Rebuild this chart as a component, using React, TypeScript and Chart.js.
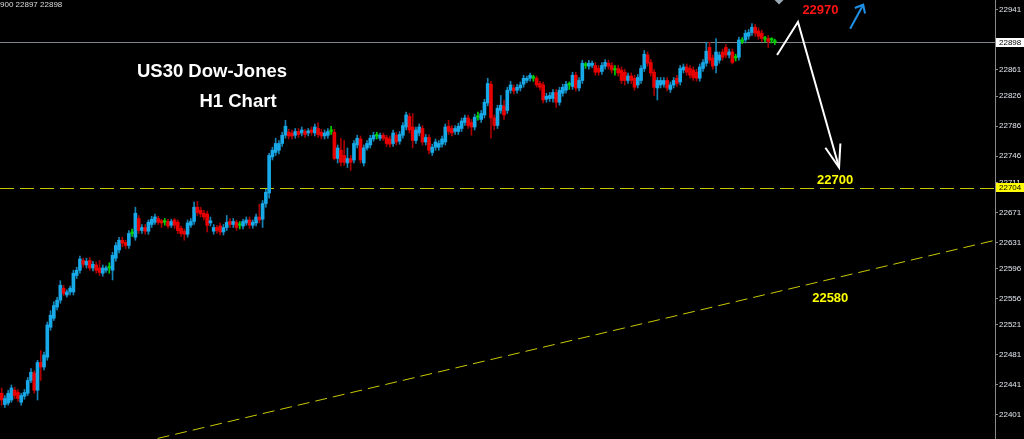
import React, { useEffect, useRef } from "react";
import { Chart, registerables } from "chart.js";

Chart.register(...registerables);

// ---- Candle data (US30 H1) ----
const opens = [
  22430, 22415, 22417, 22421, 22434, 22431, 22418, 22426, 22430, 22447,
  22457, 22434, 22471, 22465, 22478, 22518, 22530, 22545, 22554, 22570,
  22561, 22565, 22565, 22587, 22594, 22607, 22601, 22607, 22597, 22601,
  22597, 22590, 22594, 22597, 22594, 22610, 22621, 22634, 22631, 22627,
  22643, 22638, 22663, 22647, 22651, 22646, 22655, 22658, 22663, 22660,
  22658, 22659, 22654, 22661, 22658, 22650, 22646, 22642, 22654, 22659,
  22678, 22674, 22670, 22669, 22657, 22646, 22651, 22653, 22645, 22651,
  22659, 22655, 22658, 22654, 22653, 22657, 22661, 22654, 22657, 22665,
  22662, 22683, 22697, 22745, 22751, 22754, 22763, 22774, 22778, 22777,
  22774, 22779, 22777, 22779, 22777, 22781, 22777, 22783, 22778, 22773,
  22774, 22779, 22778, 22743, 22754, 22747, 22737, 22743, 22741, 22761,
  22769, 22737, 22757, 22761, 22769, 22773, 22770, 22774, 22771, 22769,
  22763, 22774, 22766, 22774, 22785, 22799, 22785, 22767, 22777, 22783,
  22765, 22771, 22751, 22758, 22758, 22762, 22765, 22786, 22783, 22779,
  22779, 22783, 22791, 22797, 22791, 22785, 22798, 22795, 22801, 22817,
  22842, 22797, 22787, 22807, 22813, 22807, 22834, 22837, 22834, 22837,
  22842, 22847, 22850, 22850, 22850, 22843, 22841, 22822, 22823, 22823,
  22831, 22818, 22830, 22834, 22841, 22839, 22854, 22837, 22847, 22867,
  22866, 22867, 22867, 22863, 22859, 22866, 22870, 22867, 22861, 22863,
  22861, 22858, 22847, 22853, 22850, 22841, 22847, 22863, 22881, 22871,
  22858, 22837, 22841, 22842, 22847, 22835, 22841, 22850, 22845, 22861,
  22865, 22863, 22861, 22858, 22850, 22863, 22870, 22891, 22877, 22867,
  22874, 22885, 22891, 22881, 22885, 22877, 22878, 22899, 22901, 22906,
  22911, 22918, 22913, 22910, 22902, 22903, 22901, 22899,
];
const highs = [
  22437, 22427, 22434, 22441, 22438, 22435, 22430, 22435, 22451, 22463,
  22460, 22474, 22487, 22485, 22525, 22540, 22552, 22558, 22580, 22574,
  22568, 22573, 22594, 22598, 22613, 22610, 22610, 22611, 22606, 22605,
  22607, 22601, 22600, 22604, 22618, 22631, 22638, 22638, 22634, 22647,
  22649, 22678, 22667, 22655, 22655, 22661, 22666, 22669, 22666, 22662,
  22663, 22662, 22662, 22663, 22661, 22653, 22649, 22661, 22663, 22685,
  22686, 22678, 22674, 22673, 22665, 22655, 22654, 22657, 22655, 22667,
  22663, 22663, 22661, 22659, 22662, 22665, 22665, 22661, 22669, 22682,
  22687, 22702, 22750, 22758, 22770, 22767, 22778, 22794, 22782, 22781,
  22783, 22783, 22785, 22782, 22783, 22785, 22789, 22791, 22782, 22781,
  22783, 22786, 22782, 22761, 22770, 22767, 22757, 22747, 22767, 22774,
  22773, 22761, 22767, 22774, 22778, 22778, 22777, 22777, 22774, 22773,
  22781, 22778, 22779, 22791, 22805, 22803, 22803, 22785, 22789, 22787,
  22775, 22775, 22762, 22769, 22767, 22773, 22789, 22794, 22787, 22787,
  22790, 22797, 22801, 22801, 22795, 22802, 22805, 22807, 22822, 22850,
  22846, 22801, 22814, 22827, 22821, 22838, 22846, 22841, 22842, 22845,
  22854, 22853, 22857, 22854, 22853, 22846, 22845, 22830, 22831, 22835,
  22835, 22838, 22842, 22846, 22845, 22858, 22858, 22851, 22874, 22871,
  22874, 22873, 22871, 22867, 22871, 22875, 22874, 22871, 22867, 22867,
  22865, 22862, 22857, 22857, 22854, 22855, 22867, 22887, 22885, 22875,
  22862, 22851, 22851, 22851, 22851, 22845, 22851, 22854, 22867, 22869,
  22869, 22867, 22865, 22862, 22869, 22875, 22898, 22898, 22881, 22903,
  22885, 22889, 22895, 22889, 22889, 22882, 22905, 22904, 22914, 22915,
  22923, 22922, 22917, 22914, 22906, 22907, 22904, 22902,
];
const lows = [
  22414, 22411, 22414, 22418, 22423, 22419, 22414, 22422, 22427, 22444,
  22430, 22421, 22447, 22461, 22474, 22514, 22527, 22541, 22550, 22560,
  22558, 22561, 22561, 22583, 22590, 22598, 22597, 22594, 22593, 22590,
  22587, 22586, 22591, 22590, 22581, 22606, 22617, 22625, 22623, 22623,
  22639, 22634, 22643, 22643, 22642, 22642, 22651, 22655, 22655, 22651,
  22654, 22650, 22651, 22650, 22643, 22639, 22634, 22638, 22651, 22655,
  22667, 22665, 22661, 22645, 22653, 22642, 22643, 22641, 22641, 22647,
  22651, 22651, 22647, 22649, 22649, 22654, 22650, 22650, 22653, 22657,
  22651, 22678, 22690, 22741, 22747, 22749, 22759, 22770, 22769, 22769,
  22770, 22771, 22773, 22771, 22773, 22774, 22773, 22771, 22769, 22769,
  22770, 22775, 22741, 22737, 22733, 22734, 22731, 22727, 22737, 22757,
  22737, 22733, 22754, 22757, 22766, 22769, 22767, 22767, 22759, 22758,
  22759, 22761, 22762, 22770, 22781, 22777, 22757, 22763, 22773, 22761,
  22761, 22749, 22747, 22754, 22754, 22758, 22761, 22775, 22773, 22775,
  22775, 22779, 22787, 22783, 22774, 22781, 22794, 22791, 22797, 22813,
  22770, 22781, 22783, 22803, 22795, 22803, 22830, 22829, 22830, 22833,
  22838, 22844, 22846, 22846, 22838, 22834, 22817, 22818, 22819, 22818,
  22811, 22814, 22826, 22830, 22835, 22835, 22833, 22833, 22843, 22863,
  22862, 22864, 22854, 22854, 22855, 22862, 22862, 22857, 22854, 22853,
  22843, 22841, 22843, 22843, 22834, 22837, 22843, 22859, 22866, 22853,
  22827, 22821, 22837, 22838, 22833, 22831, 22837, 22839, 22841, 22857,
  22854, 22850, 22847, 22846, 22846, 22859, 22866, 22870, 22862, 22857,
  22870, 22874, 22877, 22877, 22869, 22873, 22874, 22896, 22897, 22902,
  22907, 22906, 22902, 22899, 22898, 22891, 22897, 22895,
];
const closes = [
  22421, 22423, 22430, 22437, 22427, 22423, 22427, 22431, 22447, 22458,
  22434, 22471, 22465, 22481, 22521, 22534, 22547, 22554, 22574, 22563,
  22565, 22570, 22590, 22594, 22609, 22602, 22606, 22597, 22602, 22594,
  22591, 22597, 22597, 22598, 22614, 22627, 22634, 22630, 22627, 22643,
  22645, 22670, 22647, 22651, 22646, 22658, 22662, 22665, 22658, 22657,
  22658, 22653, 22659, 22654, 22647, 22643, 22642, 22657, 22659, 22678,
  22671, 22669, 22665, 22654, 22660, 22651, 22647, 22645, 22651, 22658,
  22655, 22659, 22651, 22654, 22659, 22661, 22654, 22658, 22665, 22661,
  22683, 22698, 22747, 22754, 22763, 22763, 22774, 22786, 22773, 22773,
  22779, 22775, 22781, 22775, 22780, 22778, 22785, 22775, 22773, 22777,
  22779, 22781, 22743, 22757, 22738, 22738, 22743, 22738, 22763, 22770,
  22741, 22757, 22763, 22770, 22774, 22773, 22774, 22770, 22763, 22762,
  22777, 22765, 22775, 22787, 22801, 22781, 22767, 22781, 22785, 22765,
  22771, 22754, 22758, 22765, 22763, 22769, 22785, 22779, 22777, 22783,
  22786, 22793, 22797, 22787, 22785, 22798, 22800, 22803, 22818, 22843,
  22797, 22787, 22810, 22814, 22801, 22834, 22841, 22833, 22838, 22841,
  22850, 22850, 22854, 22850, 22841, 22838, 22821, 22826, 22827, 22831,
  22818, 22834, 22838, 22842, 22841, 22854, 22837, 22847, 22870, 22867,
  22870, 22870, 22858, 22858, 22867, 22871, 22866, 22861, 22863, 22857,
  22847, 22847, 22853, 22847, 22838, 22851, 22863, 22882, 22870, 22857,
  22838, 22847, 22847, 22847, 22837, 22841, 22847, 22843, 22863, 22865,
  22858, 22854, 22851, 22850, 22865, 22871, 22886, 22874, 22866, 22885,
  22881, 22878, 22881, 22885, 22871, 22878, 22901, 22901, 22910, 22911,
  22918, 22910, 22906, 22903, 22902, 22899, 22901, 22898,
];

const SLOT_COUNT = 305; // candles plus empty chart-shift slots on the right
const slotLabels = Array.from({ length: SLOT_COUNT }, (_, i) => `H${i + 1}`);

const yTickValues = [22941, 22861, 22826, 22786, 22746, 22711, 22671, 22631, 22596, 22556, 22521, 22481, 22441, 22401];
const Y_MIN = 22369;
const Y_MAX = 22954.3;

const bidPrice = 22898;
const supportLevel = 22704;
const trendLine = [
  { i: -0.5, p: 22320 },
  { i: 304.5, p: 22634 },
];
const targetLabels = [
  { text: "22970", i: 251, p: 22940, color: "#ff1414" },
  { text: "22700", i: 255.5, p: 22714, color: "#ffff00" },
  { text: "22580", i: 254, p: 22557, color: "#ffff00" },
];
const whitePath = [
  { i: 237.7, p: 22881 },
  { i: 244.1, p: 22925 },
  { i: 256.7, p: 22731 },
];
const bluePath = [
  { i: 260.1, p: 22916 },
  { i: 264.1, p: 22948 },
];
const markerPoint = { i: 238.3, p: 22955 };

const BULL = "#18a9e9";
const BEAR = "#e80000";
const DOJI = "#00d000";
const BULL_WICK = "#1683b5";
const BEAR_WICK = "#a80000";

function candleKind(i: number) {
  const o = opens[i];
  const c = closes[i];
  if (Math.abs(c - o) <= 2) return "doji";
  return c > o ? "bull" : "bear";
}

function drawArrowHead(ctx: CanvasRenderingContext2D, x0: number, y0: number, x1: number, y1: number, len: number, ang: number) {
  const a = Math.atan2(y0 - y1, x0 - x1);
  ctx.beginPath();
  ctx.moveTo(x1 + len * Math.cos(a + ang), y1 + len * Math.sin(a + ang));
  ctx.lineTo(x1, y1);
  ctx.lineTo(x1 + len * Math.cos(a - ang), y1 + len * Math.sin(a - ang));
  ctx.stroke();
}

const overlayPlugin = {
  id: "overlayPlugin",
  beforeDatasetsDraw(chart: any) {
    const { ctx, chartArea: a, scales } = chart;
    const x = scales.x;
    const y = scales.y;
    ctx.save();
    ctx.beginPath();
    ctx.rect(a.left, a.top, a.right - a.left, a.bottom - a.top);
    ctx.clip();

    // bid line
    const by = Math.round(y.getPixelForValue(bidPrice)) + 0.5;
    ctx.strokeStyle = "#7f868e";
    ctx.lineWidth = 1;
    ctx.beginPath();
    ctx.moveTo(a.left, by);
    ctx.lineTo(a.right, by);
    ctx.stroke();

    // support dashed level
    const sy = Math.round(y.getPixelForValue(supportLevel)) + 0.5;
    ctx.strokeStyle = "#c8c800";
    ctx.setLineDash([14, 6]);
    ctx.beginPath();
    ctx.moveTo(a.left, sy);
    ctx.lineTo(a.right, sy);
    ctx.stroke();

    // trend line
    ctx.setLineDash([12, 6]);
    ctx.beginPath();
    ctx.moveTo(x.getPixelForValue(trendLine[0].i), y.getPixelForValue(trendLine[0].p));
    ctx.lineTo(x.getPixelForValue(trendLine[1].i), y.getPixelForValue(trendLine[1].p));
    ctx.stroke();
    ctx.restore();
  },
  afterDraw(chart: any) {
    const { ctx, chartArea: a, scales, width } = chart;
    const x = scales.x;
    const y = scales.y;
    ctx.save();

    // price label boxes on the axis
    const boxes = [
      { v: bidPrice, bg: "#ffffff", h: 9 },
      { v: supportLevel, bg: "#ffff00", h: 9 },
    ];
    for (const b of boxes) {
      const py = y.getPixelForValue(b.v);
      ctx.fillStyle = b.bg;
      ctx.fillRect(a.right + 1, Math.round(py - b.h / 2), width - a.right - 1, b.h);
      ctx.fillStyle = "#000000";
      ctx.font = "8px 'Liberation Sans'";
      ctx.textBaseline = "middle";
      ctx.textAlign = "left";
      ctx.fillText(String(b.v), a.right + 4, py + 0.5);
    }

    // top-left quote line
    ctx.fillStyle = "#dcdcdc";
    ctx.font = "8px 'Liberation Sans'";
    ctx.textAlign = "left";
    ctx.textBaseline = "middle";
    ctx.fillText("900 22897 22898", 0, 5);

    // titles
    ctx.fillStyle = "#ffffff";
    ctx.font = "bold 18.5px 'Liberation Sans'";
    ctx.textAlign = "center";
    ctx.fillText("US30 Dow-Jones", 212, 72);
    ctx.fillText("H1 Chart", 238, 102);

    // target labels
    ctx.font = "bold 13px 'Liberation Sans'";
    for (const t of targetLabels) {
      ctx.fillStyle = t.color;
      ctx.fillText(t.text, x.getPixelForValue(t.i), y.getPixelForValue(t.p));
    }

    // marker diamond at top
    const mx = x.getPixelForValue(markerPoint.i);
    const my = y.getPixelForValue(markerPoint.p);
    ctx.fillStyle = "#9aa6b2";
    ctx.beginPath();
    ctx.moveTo(mx, my - 5);
    ctx.lineTo(mx + 5, my);
    ctx.lineTo(mx, my + 5);
    ctx.lineTo(mx - 5, my);
    ctx.closePath();
    ctx.fill();

    // white projection path
    ctx.strokeStyle = "#ffffff";
    ctx.lineWidth = 2;
    ctx.lineJoin = "miter";
    ctx.beginPath();
    whitePath.forEach((pt, k) => {
      const px = x.getPixelForValue(pt.i);
      const py = y.getPixelForValue(pt.p);
      if (k === 0) ctx.moveTo(px, py);
      else ctx.lineTo(px, py);
    });
    ctx.stroke();
    const w1 = whitePath[1];
    const w2 = whitePath[2];
    drawArrowHead(
      ctx,
      x.getPixelForValue(w1.i), y.getPixelForValue(w1.p),
      x.getPixelForValue(w2.i), y.getPixelForValue(w2.p),
      24, 0.33
    );

    // blue arrow
    ctx.strokeStyle = "#1e90e6";
    ctx.lineWidth = 2;
    const b0x = x.getPixelForValue(bluePath[0].i);
    const b0y = y.getPixelForValue(bluePath[0].p);
    const b1x = x.getPixelForValue(bluePath[1].i);
    const b1y = y.getPixelForValue(bluePath[1].p);
    ctx.beginPath();
    ctx.moveTo(b0x, b0y);
    ctx.lineTo(b1x, b1y);
    ctx.stroke();
    drawArrowHead(ctx, b0x, b0y, b1x, b1y, 9, 0.7);

    ctx.restore();
  },
};

export default function App() {
  const canvasRef = useRef<HTMLCanvasElement | null>(null);

  useEffect(() => {
    document.body.style.margin = "0";
    document.body.style.background = "#000";
    const canvas = canvasRef.current;
    if (!canvas) return;

    const bodyData = opens.map((o, i) => [o, closes[i]]);
    const wickData = lows.map((l, i) => [l, highs[i]]);

    const chart = new Chart(canvas, {
      type: "bar",
      data: {
        labels: slotLabels,
        datasets: [
          {
            label: "body",
            data: bodyData as any,
            grouped: false,
            order: 0,
            barThickness: 3,
            minBarLength: 1.5,
            backgroundColor: (c: any) => {
              const k = candleKind(c.dataIndex);
              return k === "doji" ? DOJI : k === "bull" ? BULL : BEAR;
            },
            borderWidth: 0,
          } as any,
          {
            label: "wick",
            data: wickData as any,
            grouped: false,
            order: 1,
            barThickness: 1,
            backgroundColor: (c: any) => {
              const k = candleKind(c.dataIndex);
              return k === "doji" ? DOJI : k === "bull" ? BULL_WICK : BEAR_WICK;
            },
            borderWidth: 0,
          } as any,
        ],
      },
      options: {
        animation: false,
        responsive: true,
        maintainAspectRatio: false,
        layout: { padding: 0, autoPadding: false } as any,
        plugins: {
          legend: { display: false },
          tooltip: { enabled: false },
        },
        scales: {
          x: {
            display: false,
            offset: true,
          },
          y: {
            position: "right",
            min: Y_MIN,
            max: Y_MAX,
            afterBuildTicks: (s: any) => {
              s.ticks = yTickValues.map((v) => ({ value: v }));
            },
            afterFit: (s: any) => {
              s.width = 29;
              s.paddingTop = 0;
              s.paddingBottom = 0;
            },
            grid: {
              drawOnChartArea: false,
              drawTicks: true,
              tickLength: 3,
              color: "#8a8a8a",
            },
            border: { display: true, color: "#8a8a8a", width: 1 },
            ticks: {
              color: "#e2e7ee",
              font: { family: "'Liberation Sans'", size: 8 },
              padding: 1,
              autoSkip: false,
              callback: (v: any) => String(v),
            },
          },
        },
      },
      plugins: [overlayPlugin],
    });

    return () => chart.destroy();
  }, []);

  return (
    <div style={{ position: "fixed", left: 0, top: 0, width: 1024, height: 439, background: "#000" }}>
      <canvas ref={canvasRef} />
    </div>
  );
}
